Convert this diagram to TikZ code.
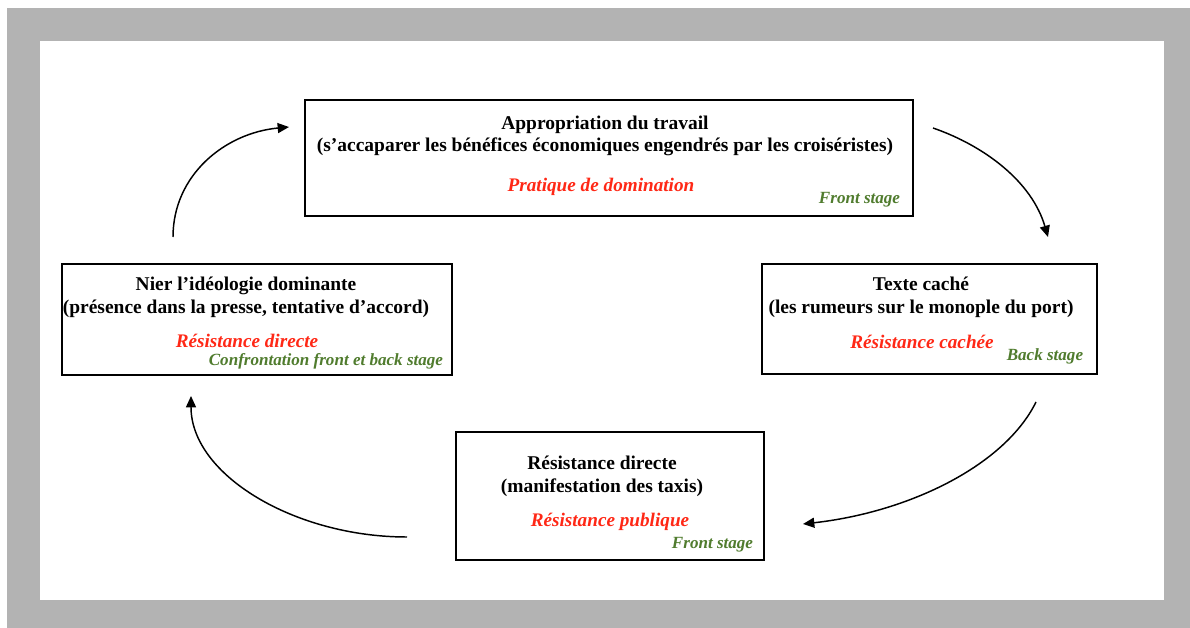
\documentclass[tikz,border=0pt]{standalone}
\usepackage{fontspec}
\setmainfont{Liberation Serif}
\usetikzlibrary{arrows.meta}
\definecolor{frameGray}{RGB}{179,179,179}
\definecolor{resistRed}{RGB}{255,40,22}
\definecolor{stageGreen}{RGB}{80,124,46}

\begin{document}
\begin{tikzpicture}[x=0.75pt,y=0.75pt,yscale=-1,xscale=1,
  stagebox/.style={draw,line width=1.5pt,inner sep=0pt},
  boxtitle/.style={inner sep=0.75pt,align=center,font=\fontsize{14.6}{16.8}\selectfont\bfseries},
  redlabel/.style={inner sep=0.5pt,text=resistRed,font=\fontsize{14.4}{16.5}\selectfont\bfseries\itshape},
  greenlabel/.style={inner sep=0.5pt,text=stageGreen,font=\fontsize{12.8}{14}\selectfont\bfseries\itshape},
  cycle arrow/.style={line width=1.1pt,-{Triangle[length=8.5pt,width=7.5pt]}}]
\useasboundingbox (0,0) rectangle (1190,628);

%Frame
\fill[frameGray] (7,8) rectangle (1190,628);
\fill[white] (40,41) rectangle (1164,600);

%Boxes
\node[stagebox,minimum width=456pt,minimum height=87pt] (appro) at (609,158) {};
\node[stagebox,minimum width=251.25pt,minimum height=82.5pt] (texte) at (929.5,319) {};
\node[stagebox,minimum width=231pt,minimum height=96pt] (manif) at (610,496) {};
\node[stagebox,minimum width=292.5pt,minimum height=83.25pt] (nier) at (257,319.5) {};

% Text Node
\node[boxtitle] (appro-t) at (605,136) {Appropriation du travail\\(s’accaparer les bénéfices économiques engendrés par les croiséristes)};
\node[redlabel] (appro-r) at (601,187) {Pratique de domination};
\node[greenlabel,anchor=east] (appro-g) at (901,200) {Front stage};
% Text Node
\node[boxtitle] (texte-t) at (921,297.5) {Texte caché\\(les rumeurs sur le monople du port)};
\node[redlabel] (texte-r) at (922,342) {Résistance cachée};
\node[greenlabel,anchor=east] (texte-g) at (1084,356) {Back stage};
% Text Node
\node[boxtitle] (manif-t) at (602,476.5) {Résistance directe\\(manifestation des taxis)};
\node[redlabel] (manif-r) at (610,522) {Résistance publique};
\node[greenlabel,anchor=east] (manif-g) at (754,545) {Front stage};
% Text Node
\node[boxtitle] (nier-t) at (246,297.5) {Nier l’idéologie dominante\\(présence dans la presse, tentative d’accord)};
\node[redlabel] (nier-r) at (247,341) {Résistance directe};
\node[greenlabel,anchor=east] (nier-g) at (444,361.5) {Confrontation front et back stage};

%Arrows
\coordinate (a1s) at (173,237); \coordinate (a1e) at (289,127);
\coordinate (a2s) at (933,128); \coordinate (a2e) at (1048,237);
\coordinate (a3s) at (1036,402); \coordinate (a3e) at (803,524);
\coordinate (a4s) at (407,537); \coordinate (a4e) at (191,396);
\draw[cycle arrow] (a1s) .. controls (173,175) and (225,133) .. (a1e);
\draw[cycle arrow] (a2s) .. controls (985,146) and (1032,182) .. (a2e);
\draw[cycle arrow] (a3s) .. controls (1005,465) and (910,512) .. (a3e);
\draw[cycle arrow] (a4s) .. controls (295,537) and (191,475) .. (a4e);

\end{tikzpicture}
\end{document}
